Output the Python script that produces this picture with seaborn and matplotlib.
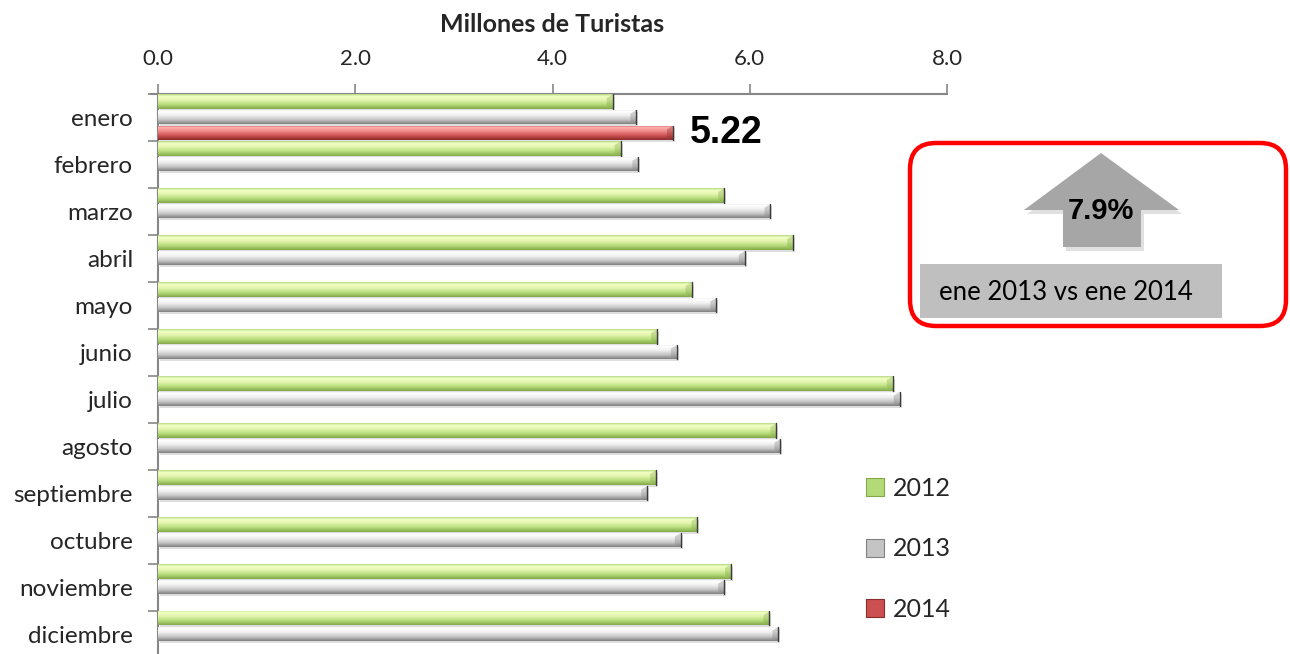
import numpy as np
import pandas as pd
import matplotlib
matplotlib.use('Agg')
import matplotlib.pyplot as plt
import seaborn as sns
from matplotlib.colors import LinearSegmentedColormap, to_rgba
from matplotlib.patches import FancyBboxPatch, Polygon, Rectangle
from matplotlib.lines import Line2D
from matplotlib.ticker import FixedLocator

# Datos (millones de turistas)
meses = ['enero', 'febrero', 'marzo', 'abril', 'mayo', 'junio', 'julio',
         'agosto', 'septiembre', 'octubre', 'noviembre', 'diciembre']
turistas_2012 = [4.61, 4.69, 5.74, 6.44, 5.41, 5.06, 7.45, 6.27, 5.05, 5.47, 5.81, 6.20]
turistas_2013 = [4.85, 4.87, 6.21, 5.95, 5.66, 5.26, 7.52, 6.31, 4.96, 5.30, 5.74, 6.29]
meses_2014 = ['enero']
turistas_2014 = [5.22]
anios = ['2012', '2013', '2014']
ticks_x = [0.0, 2.0, 4.0, 6.0, 8.0]
titulo = 'Millones de Turistas'
variacion = '7.9%'
comparacion = 'ene 2013 vs ene 2014'

df = pd.concat([
    pd.DataFrame({'mes': meses, 'valor': turistas_2012, 'anio': '2012'}),
    pd.DataFrame({'mes': meses, 'valor': turistas_2013, 'anio': '2013'}),
    pd.DataFrame({'mes': meses_2014, 'valor': turistas_2014, 'anio': '2014'}),
], ignore_index=True)

colores = {'2012': '#b3d774', '2013': '#e3e3e3', '2014': '#d65a5a'}
gradientes = {
    '2012': ['#b5d986', '#f3ffc4', '#e2f5ae', '#b4d977', '#83a84a'],
    '2013': ['#e6e6e6', '#ffffff', '#f1f1f1', '#c4c4c4', '#808080'],
    '2014': ['#c45a5a', '#ffb0b0', '#f08a8a', '#cc5050', '#8a2c2c'],
}
paradas = [0, 0.15, 0.4, 0.72, 1.0]

sns.set_theme(style='white')
plt.rcParams['font.family'] = ['Lato', 'DejaVu Sans']

fig = plt.figure(figsize=(12.9, 6.54), dpi=100)
ax = fig.add_axes([158 / 1290, -0.006, (947 - 158) / 1290, 1 - 94 / 654 + 0.006])

sns.barplot(data=df, y='mes', x='valor', hue='anio', hue_order=anios, order=meses,
            orient='h', width=1.0, palette=colores, saturation=1, legend=False,
            edgecolor='none', linewidth=0, ax=ax)

xlim = (0, 8)
ylim = ax.get_ylim()

# relleno con degradado para simular el estilo 3D
ref = {k: to_rgba(v) for k, v in colores.items()}
for p in list(ax.patches):
    fc = p.get_facecolor()
    anio = min(ref, key=lambda k: sum((a - b) ** 2 for a, b in zip(ref[k], fc)))
    x0, y0, w, h = p.get_x(), p.get_y(), p.get_width(), p.get_height()
    y0 += h * 0.03
    h *= 0.9
    p.set_y(y0)
    p.set_height(h)
    ax.add_patch(Rectangle((x0 + 0.02, y0 + h * 0.15), w, h, facecolor='#000000',
                           alpha=0.13, edgecolor='none', zorder=1))
    p.set_zorder(2)
    cmap = LinearSegmentedColormap.from_list('g' + anio, list(zip(paradas, gradientes[anio])))
    img = ax.imshow(np.linspace(0, 1, 64).reshape(-1, 1), cmap=cmap, aspect='auto',
                    extent=(x0, x0 + w, y0 + h, y0), origin='upper', zorder=3)
    img.set_clip_path(p)
    # extremo biselado
    ax.add_patch(Polygon([(x0 + w - 0.06, y0 + h * 0.25), (x0 + w, y0), (x0 + w, y0 + h),
                          (x0 + w - 0.06, y0 + h * 0.78)], closed=True,
                         facecolor=gradientes[anio][4], alpha=0.35, edgecolor='none',
                         zorder=4))
    ax.plot([x0 + w, x0 + w], [y0, y0 + h], color='#3a3a3a', linewidth=1.0, zorder=5)
    if anio == '2014':
        ax.text(x0 + w + 0.17, y0 + h / 2, f'{w:.2f}', fontsize=27, fontweight='bold',
                family=['Liberation Sans', 'DejaVu Sans'], va='center', ha='left',
                color='black')

ax.set_xlim(xlim)
ax.set_ylim(ylim)

# ejes
ax.xaxis.tick_top()
ax.xaxis.set_label_position('top')
ax.set_xticks(ticks_x)
ax.set_xticklabels([f'{t:.1f}' for t in ticks_x], fontsize=16)
ax.set_xlabel(titulo, fontsize=18, fontweight='bold', labelpad=12)
ax.set_ylabel('')
ax.tick_params(axis='x', which='major', direction='out', length=7, width=1.2,
               color='#868686', pad=11, top=True, bottom=False)
ax.tick_params(axis='y', which='major', length=0, pad=18, labelsize=17.5)
ax.yaxis.set_minor_locator(FixedLocator(np.arange(-0.5, len(meses), 1.0)))
ax.tick_params(axis='y', which='minor', direction='out', length=7, width=1.2,
               color='#868686', left=True)
for s in ['right', 'bottom']:
    ax.spines[s].set_visible(False)
for s in ['top', 'left']:
    ax.spines[s].set_color('#868686')
    ax.spines[s].set_linewidth(1.5)
ax.spines['top'].set_bounds(-0.07, 8)

# leyenda
handles = [Line2D([], [], marker='s', linestyle='none', markersize=13,
                  markerfacecolor=gradientes[a][3], markeredgecolor=gradientes[a][4],
                  markeredgewidth=0.8) for a in anios]
fig.legend(handles, anios, loc='upper left', bbox_to_anchor=(855 / 1290, 1 - 467 / 654),
           frameon=False, fontsize=18, labelspacing=1.5, handlelength=0.8,
           handletextpad=0.3, borderaxespad=0)

# cuadro con la variacion de enero
ov = fig.add_axes([0, 0, 1, 1], zorder=5)
ov.set_xlim(0, 1290)
ov.set_ylim(654, 0)
ov.axis('off')
ov.patch.set_alpha(0)

caja = FancyBboxPatch((910, 143), 376, 183, boxstyle='round,pad=0,rounding_size=26',
                      facecolor='none', edgecolor='#ff0000', linewidth=3.2)
ov.add_patch(caja)
flecha_pts = [(1101, 153), (1179, 210), (1141, 210), (1141, 247), (1063, 247),
              (1063, 210), (1024, 210)]
ov.add_patch(Polygon([(x + 3, y + 4) for x, y in flecha_pts], closed=True,
                     facecolor='#000000', alpha=0.12, edgecolor='none'))
ov.add_patch(Polygon(flecha_pts, closed=True, facecolor='#a6a6a6', edgecolor='none'))
ov.text(1101, 211, variacion, fontsize=21, fontweight='bold', color='black',
        family=['Liberation Sans', 'DejaVu Sans'], ha='center', va='center')
ov.add_patch(Rectangle((920, 264), 302, 54, facecolor='#bfbfbf', edgecolor='none'))
ov.text(1066, 292, comparacion, fontsize=18.5, ha='center', va='center', color='black')

fig.savefig('out.png', dpi=100)
